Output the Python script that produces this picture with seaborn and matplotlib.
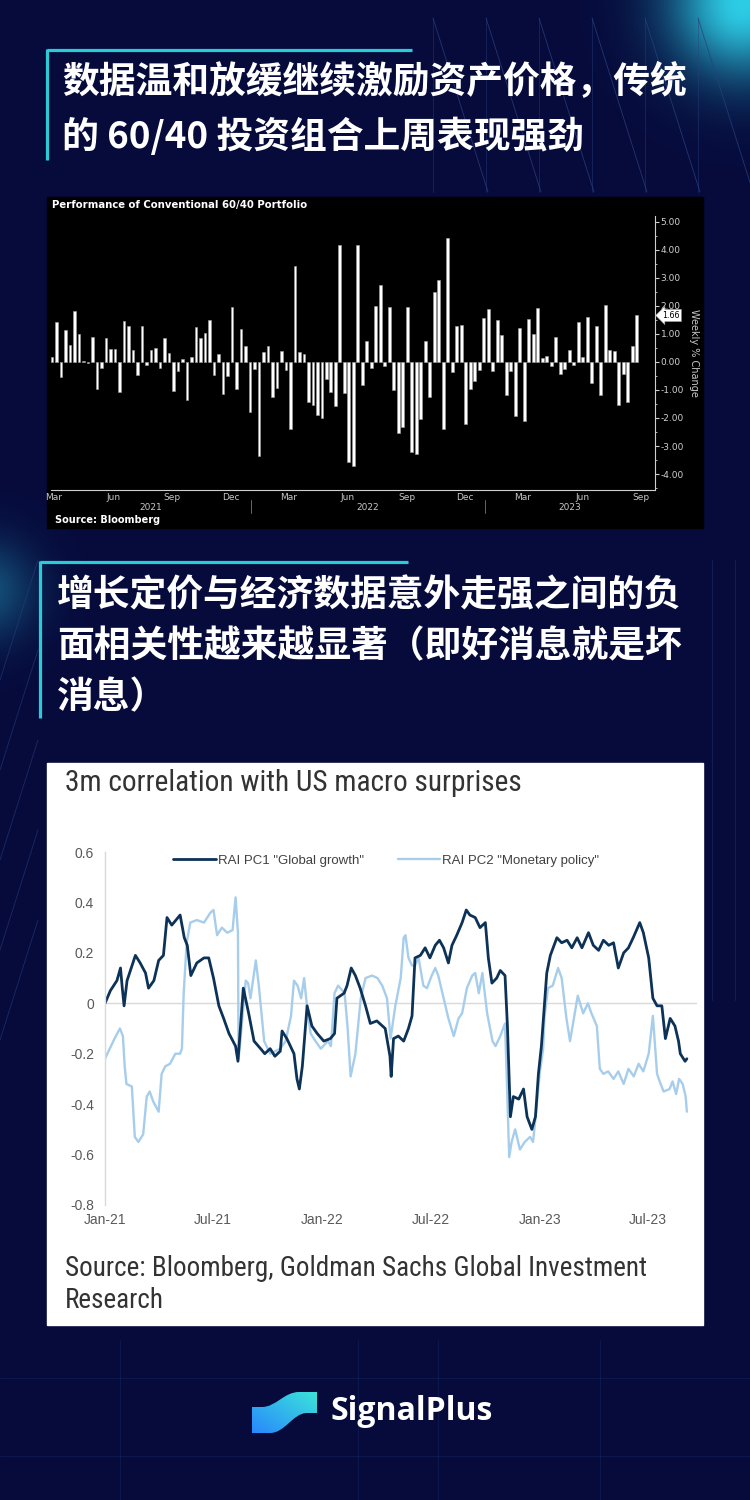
import numpy as np
import pandas as pd
import matplotlib
matplotlib.use("Agg")
import matplotlib.pyplot as plt
import matplotlib.dates as mdates
import matplotlib.ticker as mticker
from matplotlib.patches import Rectangle, PathPatch
from matplotlib.path import Path
from matplotlib.lines import Line2D
from matplotlib.transforms import blended_transform_factory
from matplotlib import font_manager
import seaborn as sns

# ---------------- data ----------------
headline_1 = ["数据温和放缓继续激励资产价格，传统", "的 60/40 投资组合上周表现强劲"]
headline_2 = ["增长定价与经济数据意外走强之间的负", "面相关性越来越显著（即好消息就是坏", "消息）"]

# Bloomberg panel: weekly % change of a 60/40 portfolio, weeks ending Fridays
first_week = "2021-02-26"
weekly_change = [
    0.18, 1.42, -0.55, 1.14, 0.60, 1.83, 1.00, 0.02, -0.04, 0.90,
    -0.98, -0.22, 0.87, 0.46, 0.45, -1.07, 1.46, 1.30, 0.43, -0.46,
    1.29, -0.10, 0.43, 0.50, -0.21, 0.87, 0.33, -1.02, -0.33, 0.10,
    -1.37, 0.17, 1.25, 0.87, 1.05, 1.51, -0.46, 0.27, -1.15, -0.49,
    1.96, -0.98, 1.18, 0.57, -1.77, -0.24, -3.35, 0.37, 0.57, -1.24,
    -0.94, 0.38, -0.29, -2.39, 3.42, 0.36, 0.27, -1.44, -1.52, -1.90,
    -2.00, -0.60, -1.07, -1.56, 4.17, -1.12, -3.57, -3.73, 4.19, -0.81,
    0.75, -0.21, 1.99, 2.73, -0.14, 1.95, -1.00, -2.55, -2.31, 1.95,
    -3.21, -3.29, -2.05, 0.75, -1.25, 2.48, 2.93, -2.38, 4.42, -0.36,
    1.29, 1.32, -2.21, -0.98, -0.69, -0.29, 1.58, 1.88, -0.33, 1.51,
    0.96, -1.17, -0.33, -1.92, 1.20, -2.10, 1.54, 1.01, 1.92, 0.15,
    0.21, -0.14, 0.89, -0.44, -0.24, 0.44, -0.10, 1.44, 0.17, 1.60,
    -0.76, 1.29, -1.19, 2.04, 0.42, 0.39, -1.52, -0.42, -1.43, 0.57,
    1.66,
]
last_value = 1.66

# GS panel: 3m correlation with US macro surprises
pc1_label = 'RAI PC1 "Global growth"'
pc1_dates = [
    "2021-01-01", "2021-01-10", "2021-01-21", "2021-01-27", "2021-01-30", "2021-02-02",
    "2021-02-07", "2021-02-21", "2021-03-01", "2021-03-10", "2021-03-15", "2021-03-24",
    "2021-04-01", "2021-04-09", "2021-04-15", "2021-04-23", "2021-05-07", "2021-05-14",
    "2021-05-19", "2021-05-25", "2021-06-04", "2021-06-16", "2021-06-24", "2021-07-02",
    "2021-07-11", "2021-07-19", "2021-07-28", "2021-08-08", "2021-08-12", "2021-08-21",
    "2021-08-30", "2021-09-08", "2021-09-19", "2021-09-26", "2021-10-05", "2021-10-13",
    "2021-10-22", "2021-10-25", "2021-11-02", "2021-11-14", "2021-11-19", "2021-11-23",
    "2021-11-28", "2021-12-06", "2021-12-14", "2021-12-23", "2022-01-03", "2022-01-14",
    "2022-01-21", "2022-01-25", "2022-02-06", "2022-02-11", "2022-02-18", "2022-02-25",
    "2022-03-05", "2022-03-14", "2022-03-22", "2022-04-02", "2022-04-16", "2022-04-24",
    "2022-04-26", "2022-04-30", "2022-05-08", "2022-05-17", "2022-05-25", "2022-05-31",
    "2022-06-05", "2022-06-14", "2022-06-22", "2022-06-30", "2022-07-09", "2022-07-16",
    "2022-07-23", "2022-07-31", "2022-08-06", "2022-08-14", "2022-08-23", "2022-08-30",
    "2022-09-05", "2022-09-14", "2022-09-22", "2022-10-01", "2022-10-06", "2022-10-12",
    "2022-10-20", "2022-10-26", "2022-11-03", "2022-11-07", "2022-11-12", "2022-11-17",
    "2022-11-26", "2022-12-04", "2022-12-10", "2022-12-18", "2022-12-24", "2022-12-29",
    "2023-01-03", "2023-01-12", "2023-01-18", "2023-01-29", "2023-02-06", "2023-02-15",
    "2023-02-23", "2023-03-04", "2023-03-12", "2023-03-23", "2023-03-31", "2023-04-09",
    "2023-04-17", "2023-04-26", "2023-05-04", "2023-05-12", "2023-05-21", "2023-05-29",
    "2023-06-06", "2023-06-17", "2023-06-23", "2023-07-02", "2023-07-09", "2023-07-16",
    "2023-07-24", "2023-07-30", "2023-08-07", "2023-08-15", "2023-08-21", "2023-08-24",
    "2023-09-01", "2023-09-04",
]
pc1_values = [
    0.00, 0.05, 0.09, 0.14, 0.06, -0.01,
    0.09, 0.19, 0.16, 0.12, 0.06, 0.09,
    0.17, 0.19, 0.34, 0.31, 0.35, 0.26,
    0.23, 0.11, 0.16, 0.18, 0.18, 0.10,
    -0.01, -0.06, -0.12, -0.17, -0.23, 0.06,
    -0.04, -0.15, -0.18, -0.20, -0.18, -0.21,
    -0.19, -0.11, -0.14, -0.20, -0.30, -0.34,
    -0.25, -0.01, -0.09, -0.12, -0.15, -0.14,
    -0.12, 0.02, 0.04, 0.07, 0.14, 0.11,
    0.06, -0.01, -0.08, -0.07, -0.10, -0.21,
    -0.29, -0.14, -0.13, -0.15, -0.10, -0.05,
    0.18, 0.19, 0.22, 0.18, 0.23, 0.25,
    0.22, 0.16, 0.23, 0.27, 0.32, 0.37,
    0.35, 0.34, 0.30, 0.32, 0.18, 0.08,
    0.10, 0.13, 0.11, -0.09, -0.45, -0.37,
    -0.38, -0.34, -0.45, -0.50, -0.45, -0.28,
    -0.17, 0.12, 0.19, 0.26, 0.24, 0.25,
    0.22, 0.26, 0.22, 0.28, 0.23, 0.21,
    0.25, 0.23, 0.24, 0.14, 0.20, 0.22,
    0.26, 0.32, 0.28, 0.18, 0.02, -0.01,
    -0.01, -0.14, -0.06, -0.09, -0.15, -0.20,
    -0.23, -0.22,
]

pc2_label = 'RAI PC2 "Monetary policy"'
pc2_dates = [
    "2021-01-01", "2021-01-09", "2021-01-17", "2021-01-26", "2021-01-31", "2021-02-03",
    "2021-02-06", "2021-02-15", "2021-02-20", "2021-02-26", "2021-03-06", "2021-03-12",
    "2021-03-17", "2021-03-23", "2021-04-01", "2021-04-06", "2021-04-12", "2021-04-20",
    "2021-04-29", "2021-05-07", "2021-05-10", "2021-05-13", "2021-05-18", "2021-05-24",
    "2021-06-04", "2021-06-16", "2021-06-27", "2021-07-02", "2021-07-08", "2021-07-16",
    "2021-07-25", "2021-08-03", "2021-08-08", "2021-08-12", "2021-08-13", "2021-08-16",
    "2021-08-25", "2021-08-29", "2021-09-02", "2021-09-11", "2021-09-16", "2021-09-25",
    "2021-10-05", "2021-10-22", "2021-10-31", "2021-11-09", "2021-11-14", "2021-11-20",
    "2021-11-26", "2021-12-01", "2021-12-07", "2021-12-12", "2021-12-20", "2021-12-29",
    "2022-01-10", "2022-01-15", "2022-01-21", "2022-01-27", "2022-02-07", "2022-02-12",
    "2022-02-17", "2022-02-25", "2022-03-02", "2022-03-06", "2022-03-14", "2022-03-25",
    "2022-04-03", "2022-04-11", "2022-04-19", "2022-04-25", "2022-05-03", "2022-05-12",
    "2022-05-17", "2022-05-20", "2022-05-25", "2022-05-31", "2022-06-05", "2022-06-11",
    "2022-06-19", "2022-06-25", "2022-07-03", "2022-07-09", "2022-07-14", "2022-07-23",
    "2022-07-31", "2022-08-09", "2022-08-17", "2022-08-23", "2022-08-31", "2022-09-09",
    "2022-09-14", "2022-09-20", "2022-09-26", "2022-10-04", "2022-10-13", "2022-10-18",
    "2022-10-26", "2022-11-03", "2022-11-10", "2022-11-14", "2022-11-20", "2022-11-28",
    "2022-12-06", "2022-12-15", "2022-12-20", "2022-12-26", "2022-12-31", "2023-01-06",
    "2023-01-08", "2023-01-14", "2023-01-22", "2023-01-31", "2023-02-06", "2023-02-14",
    "2023-02-20", "2023-02-28", "2023-03-05", "2023-03-14", "2023-03-22", "2023-03-28",
    "2023-04-06", "2023-04-11", "2023-04-17", "2023-04-25", "2023-05-04", "2023-05-12",
    "2023-05-21", "2023-05-29", "2023-06-07", "2023-06-15", "2023-06-23", "2023-07-02",
    "2023-07-09", "2023-07-16", "2023-07-22", "2023-07-27", "2023-08-06", "2023-08-11",
    "2023-08-17", "2023-08-22", "2023-08-28", "2023-09-02", "2023-09-04",
]
pc2_values = [
    -0.22, -0.18, -0.14, -0.10, -0.13, -0.25,
    -0.32, -0.33, -0.53, -0.55, -0.52, -0.37,
    -0.35, -0.39, -0.43, -0.28, -0.25, -0.24,
    -0.20, -0.20, -0.18, 0.04, 0.24, 0.32,
    0.33, 0.32, 0.36, 0.37, 0.27, 0.30,
    0.28, 0.29, 0.42, 0.28, -0.22, -0.15,
    0.09, 0.08, 0.02, 0.17, 0.07, -0.15,
    -0.20, -0.18, -0.15, -0.05, 0.09, 0.07,
    0.02, 0.10, -0.04, -0.12, -0.15, -0.18,
    -0.15, -0.17, 0.04, 0.07, 0.04, -0.10,
    -0.29, -0.20, -0.08, 0.02, 0.10, 0.11,
    0.10, 0.07, 0.02, -0.14, -0.01, 0.10,
    0.26, 0.27, 0.18, 0.15, 0.15, 0.18,
    0.07, 0.06, 0.11, 0.14, 0.11, 0.02,
    -0.06, -0.13, -0.06, -0.04, 0.06, 0.11,
    0.12, 0.04, 0.12, -0.04, -0.15, -0.17,
    -0.13, -0.08, -0.61, -0.55, -0.50, -0.58,
    -0.55, -0.53, -0.55, -0.41, -0.28, -0.18,
    -0.06, 0.06, 0.07, 0.14, 0.10, -0.06,
    -0.15, -0.04, 0.03, -0.04, 0.00, -0.04,
    -0.09, -0.26, -0.28, -0.27, -0.30, -0.27,
    -0.32, -0.26, -0.29, -0.24, -0.27, -0.20,
    -0.05, -0.28, -0.32, -0.35, -0.34, -0.31,
    -0.36, -0.30, -0.32, -0.37, -0.43,
]

# ---------------- style ----------------
sns.set_style("white")
plt.rcParams["font.family"] = ["Noto Sans CJK SC", "DejaVu Sans"]
plt.rcParams["axes.unicode_minus"] = False

installed = {f.name for f in font_manager.fontManager.ttflist}
narrow = next((n for n in ["Liberation Sans Narrow", "Roboto Condensed", "Open Sans Condensed"]
               if n in installed), "Roboto")
arial = "Liberation Sans" if "Liberation Sans" in installed else "DejaVu Sans"

navy = np.array([6, 11, 60]) / 255
teal = "#2bcbd6"
dark_blue = "#0d3257"
light_blue = "#a7cdec"

W, H = 750, 1500
fig = plt.figure(figsize=(7.5, 15), dpi=100)

# background canvas in pixel units
bg = fig.add_axes([0, 0, 1, 1])
bg.set_xlim(0, W)
bg.set_ylim(H, 0)
bg.axis("off")

yy, xx = np.mgrid[0:H, 0:W]
img = np.ones((H, W, 3)) * navy
cyan = np.array([45, 205, 230]) / 255
glow = np.exp(-((xx - 742) ** 2 + (yy - 4) ** 2) / (2 * 50 ** 2))
glow2 = 0.35 * np.exp(-((xx + 15) ** 2 + (yy - 590) ** 2) / (2 * 35 ** 2))
img = img + (glow + glow2)[..., None] * (cyan - navy)
bg.imshow(np.clip(img, 0, 1), extent=(0, W, H, 0), aspect="auto", zorder=0)

line_col = (0.16, 0.25, 0.50)
for x0 in range(433, 720, 53):
    bg.plot([x0, x0 + 55], [18, 192], color=line_col, lw=0.6, alpha=0.8, zorder=1)
    bg.plot([x0, x0], [18, 192], color=line_col, lw=0.5, alpha=0.6, zorder=1)
for y0 in range(560, 1000, 90):
    bg.plot([0, 38], [y0 + 120, y0], color=line_col, lw=0.6, alpha=0.6, zorder=1)
for x0 in (712, 735):
    bg.plot([x0, x0], [560, 1000], color=line_col, lw=0.5, alpha=0.5, zorder=1)
for y0 in (1378, 1456):
    bg.plot([0, W], [y0, y0], color=line_col, lw=0.5, alpha=0.35, zorder=1)
for x0 in (120, 358, 438, 600):
    bg.plot([x0, x0], [1340, 1500], color=line_col, lw=0.5, alpha=0.35, zorder=1)

# headlines with teal brackets
bg.plot([47, 412], [50, 50], color=teal, lw=2.3, solid_capstyle="butt", zorder=2)
bg.plot([47, 47], [49, 160], color=teal, lw=2.3, solid_capstyle="butt", zorder=2)
for i, line in enumerate(headline_1):
    bg.text(62, 82 + 55 * i, line, color="white", fontsize=26.5, fontweight="bold",
            va="center", ha="left", zorder=3)

bg.plot([40, 408], [562, 562], color=teal, lw=2.3, solid_capstyle="butt", zorder=2)
bg.plot([40, 40], [561, 718], color=teal, lw=2.3, solid_capstyle="butt", zorder=2)
for i, line in enumerate(headline_2):
    bg.text(57, 596 + 51 * i, line, color="white", fontsize=26.5, fontweight="bold",
            va="center", ha="left", zorder=3)

# panels
bg.add_patch(Rectangle((47, 197), 656, 331, color="black", zorder=2))
bg.add_patch(Rectangle((47, 763), 656, 562, color="white", zorder=2))

# ---------------- Bloomberg bar chart ----------------
week_dates = pd.date_range(first_week, periods=len(weekly_change), freq="7D")
week_num = mdates.date2num(week_dates.to_pydatetime())
bars = pd.DataFrame({"week": week_num, "change": weekly_change})

axb = fig.add_axes([51 / W, 1 - 490 / H, (655 - 51) / W, (490 - 216) / H])
axb.set_facecolor("black")
sns.barplot(data=bars, x="week", y="change", native_scale=True, width=0.6,
            color="white", saturation=1, edgecolor="#a0a0a0", linewidth=0.4,
            errorbar=None, ax=axb)

px_day = 0.6425
axb.set_xlim(week_num[0] - 1 / px_day, week_num[0] + (655 - 52) / px_day)
axb.set_ylim(-4.57, 5.21)
axb.set_xlabel("")
axb.set_ylabel("")

for s in ("left", "top"):
    axb.spines[s].set_visible(False)
for s in ("bottom", "right"):
    axb.spines[s].set_color("#cfcfcf")
    axb.spines[s].set_linewidth(0.8)

axb.yaxis.tick_right()
axb.set_yticks(range(-4, 6))
axb.yaxis.set_major_formatter(mticker.FormatStrFormatter("%.2f"))
axb.yaxis.set_minor_locator(mticker.MultipleLocator(0.5))
axb.tick_params(axis="y", which="both", colors="#d0d0d0", labelsize=6.5, pad=1, direction="out")
axb.tick_params(axis="y", which="major", length=3)
axb.tick_params(axis="y", which="minor", length=1.5)

axb.xaxis.set_major_locator(mdates.MonthLocator(bymonth=[3, 6, 9, 12]))
axb.xaxis.set_major_formatter(mdates.DateFormatter("%b"))
axb.xaxis.set_minor_locator(mdates.MonthLocator())
axb.tick_params(axis="x", which="both", colors="#c8c8c8", labelsize=6.5, direction="in", pad=2)
axb.tick_params(axis="x", which="major", length=3)
axb.tick_params(axis="x", which="minor", length=2)
for lab in axb.get_xticklabels() + axb.get_yticklabels():
    lab.set_family("DejaVu Sans")

axb.yaxis.set_label_position("right")
axb.set_ylabel("Weekly % Change", rotation=270, va="bottom", color="#c8c8c8",
               fontsize=7, family="DejaVu Sans", labelpad=4)

tag_tr = blended_transform_factory(axb.transAxes, axb.transData)
axb.text(1.012, last_value, f"{last_value:.2f}", transform=tag_tr, fontsize=5.8, color="black",
         family="DejaVu Sans", va="center", ha="left", clip_on=False,
         bbox=dict(boxstyle="larrow,pad=0.2", fc="white", ec="#999999", lw=0.4))

year_tr = blended_transform_factory(axb.transData, axb.transAxes)
xmin, xmax = axb.get_xlim()
y22 = mdates.date2num(pd.Timestamp("2022-01-01"))
y23 = mdates.date2num(pd.Timestamp("2023-01-01"))
for label, xc in (("2021", (xmin + y22) / 2), ("2022", (y22 + y23) / 2), ("2023", (y23 + xmax) / 2)):
    axb.text(xc, -0.065, label, transform=year_tr, ha="center", va="center",
             fontsize=6.5, color="#c8c8c8", family="DejaVu Sans")
for xs in (y22, y23):
    axb.add_line(Line2D([xs, xs], [-0.035, -0.085], transform=year_tr, color="#777777",
                        lw=0.6, clip_on=False))

bg.text(52, 205, "Performance of Conventional 60/40 Portfolio", color="white", fontsize=7.3,
        fontweight="bold", family="DejaVu Sans", va="center", zorder=3)
bg.text(55, 520, "Source: Bloomberg", color="white", fontsize=7, fontweight="bold",
        family="DejaVu Sans", va="center", zorder=3)
bg.text(59, 476, "⊟ ▾", color="#6a6a6a", fontsize=5.5, family="DejaVu Sans", va="center", zorder=3)

# ---------------- GS correlation lines ----------------
pc1 = pd.DataFrame({"date": pd.to_datetime(pc1_dates), "value": pc1_values})
pc2 = pd.DataFrame({"date": pd.to_datetime(pc2_dates), "value": pc2_values})

axl = fig.add_axes([105 / W, 1 - 1205 / H, (697 - 105) / W, (1205 - 852) / H])
axl.set_facecolor("white")
axl.axhline(0, color="#d9d9d9", lw=1, zorder=0)
sns.lineplot(data=pc2, x="date", y="value", color=light_blue, lw=1.7, ax=axl)
sns.lineplot(data=pc1, x="date", y="value", color=dark_blue, lw=2.0, ax=axl)

axl.set_xlim(pd.Timestamp("2021-01-01"), pd.Timestamp("2023-09-21"))
axl.set_ylim(-0.8, 0.6)
axl.set_xlabel("")
axl.set_ylabel("")
for s in ("top", "right", "bottom"):
    axl.spines[s].set_visible(False)
axl.spines["left"].set_color("#d9d9d9")
axl.spines["left"].set_linewidth(1)

axl.set_yticks([-0.8, -0.6, -0.4, -0.2, 0.0, 0.2, 0.4, 0.6])
axl.yaxis.set_major_formatter(mticker.FuncFormatter(lambda v, p: "0" if abs(v) < 1e-9 else f"{v:.1f}"))
axl.xaxis.set_major_locator(mdates.MonthLocator(bymonth=[1, 7]))
axl.xaxis.set_major_formatter(mdates.DateFormatter("%b-%y"))
axl.tick_params(axis="x", length=0, labelsize=10, colors="#595959", pad=6)
axl.tick_params(axis="y", length=3, color="#d9d9d9", labelsize=10, labelcolor="#595959", pad=5)
for lab in axl.get_xticklabels() + axl.get_yticklabels():
    lab.set_family(arial)

handles = [Line2D([], [], color=dark_blue, lw=2.0), Line2D([], [], color=light_blue, lw=1.7)]
axl.legend(handles, [pc1_label, pc2_label], loc="center", bbox_to_anchor=(0.475, 0.975),
           ncol=2, frameon=False, handlelength=3.2, handletextpad=0.15, columnspacing=2.6,
           prop={"family": arial, "size": 9.5}, labelcolor="#404040")

bg.text(65, 783, "3m correlation with US macro surprises", color="#333333", fontsize=21.2,
        family=narrow, va="center", zorder=3)
bg.text(65, 1268, "Source: Bloomberg, Goldman Sachs Global Investment", color="#333333",
        fontsize=19.5, family=narrow, va="center", zorder=3)
bg.text(65, 1301, "Research", color="#333333", fontsize=19.5, family=narrow, va="center", zorder=3)

# ---------------- SignalPlus logo ----------------
verts = [(252, 1407), (262, 1407),
         (276, 1407), (284, 1392), (299, 1392),
         (317, 1392), (317, 1413), (307, 1413),
         (293, 1413), (285, 1433), (270, 1433),
         (252, 1433), (252, 1407)]
codes = [Path.MOVETO, Path.LINETO,
         Path.CURVE4, Path.CURVE4, Path.CURVE4,
         Path.LINETO, Path.LINETO, Path.LINETO,
         Path.CURVE4, Path.CURVE4, Path.CURVE4,
         Path.LINETO, Path.CLOSEPOLY]
icon = PathPatch(Path(verts, codes), fc="none", ec="none", zorder=3)
bg.add_patch(icon)
gy, gx = np.mgrid[0:50, 0:70]
t = np.clip((gx / 70 + (50 - gy) / 50) / 2, 0, 1)
c0 = np.array([40, 130, 255]) / 255
c1 = np.array([60, 235, 215]) / 255
grad = c0 + t[..., None] * (c1 - c0)
im = bg.imshow(grad, extent=(250, 320, 1436, 1388), aspect="auto", zorder=3)
im.set_clip_path(icon)
bg.text(330, 1412, "SignalPlus", color="white", fontsize=23, fontweight="bold",
        family="Open Sans", va="center", zorder=3)

fig.savefig("out.png", dpi=100, facecolor=navy)
